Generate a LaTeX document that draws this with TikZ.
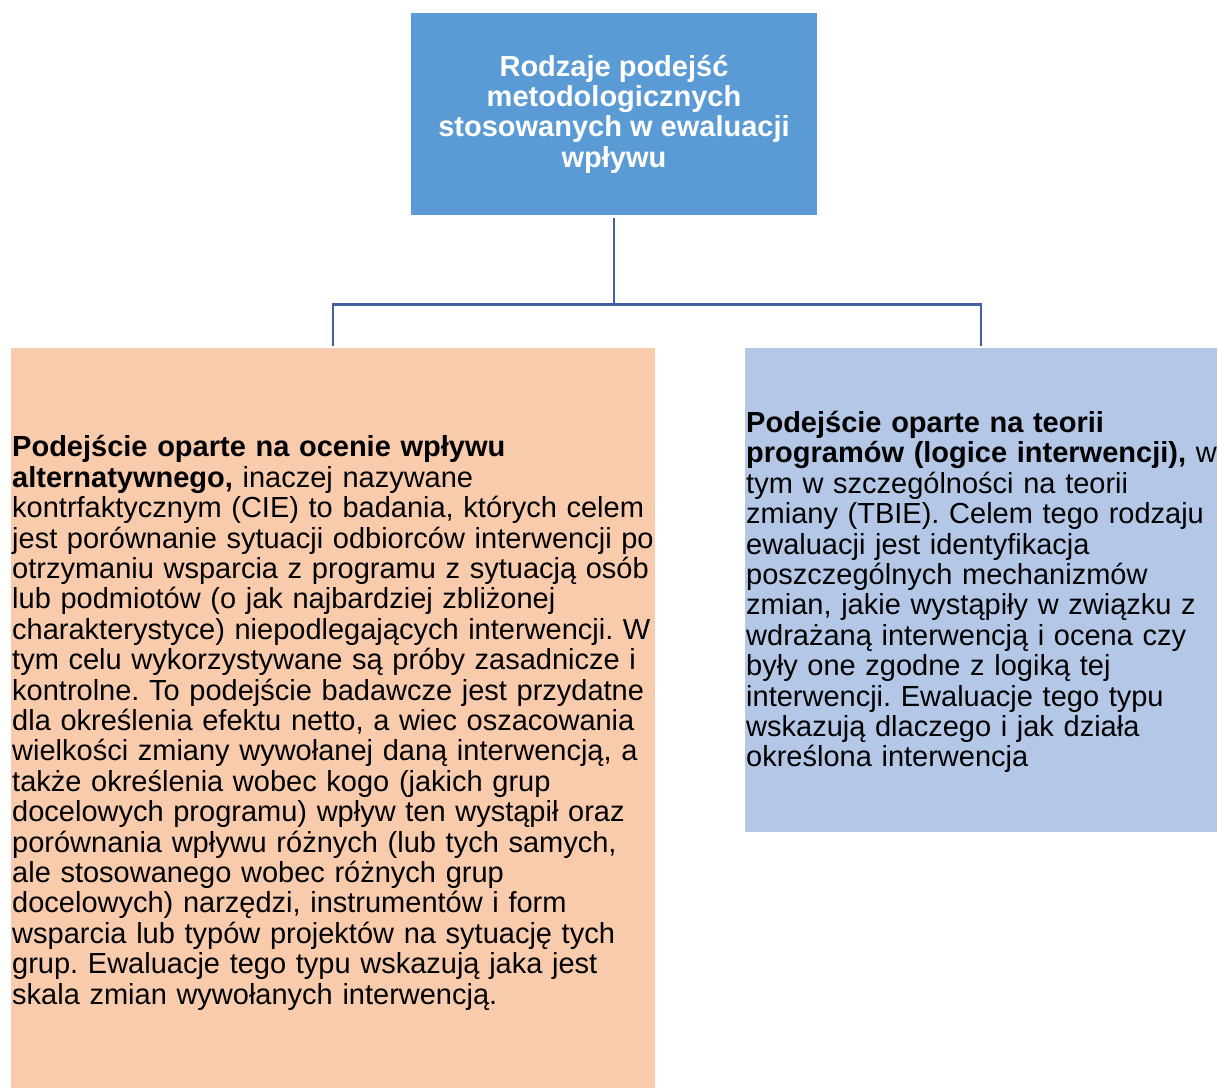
\documentclass[tikz,border=0pt]{standalone}
\usepackage{fontspec}
\setmainfont{Liberation Sans}
\usepackage{xcolor}
\usepackage{tikz}

\definecolor{topblue}{RGB}{91,155,213}
\definecolor{peach}{RGB}{248,203,173}
\definecolor{paleblue}{RGB}{180,199,231}
\definecolor{linkblue}{RGB}{65,97,160}

\tikzset{
  box/.style={rectangle, inner sep=0pt},
  bodytext/.style={inner sep=0pt, text width=700pt, align=left,
    font=\fontsize{29}{30.4}\selectfont\frenchspacing},
  link/.style={draw=linkblue, line width=2.8pt, shorten >=2pt}
}

\begin{document}
\begin{tikzpicture}[x=1pt,y=-1pt]
    \useasboundingbox (0,0) rectangle (1220,1088);
    % boxes
    \node[box, fill=topblue, minimum width=406pt, minimum height=202pt,
      text=white, align=center, font=\fontsize{29}{30.4}\selectfont\bfseries]
      (kinds) at (614,114) {Rodzaje podejść\\metodologicznych\\stosowanych w ewaluacji\\wpływu};
    \node[box, fill=peach, minimum width=644pt, minimum height=740pt] (alt) at (333,718) {};
    \node[box, fill=paleblue, minimum width=472pt, minimum height=484pt] (theory) at (981,590) {};
    % connectors
    \draw[link, shorten <=3pt] (kinds.south) -- ++(0,89) coordinate (fork) -| (alt.north);
    \draw[link] (fork) -| (theory.north);
    % texts
    \node[bodytext, anchor=north west] (altText) at (12,435.5) {\textbf{Podejście oparte na ocenie wpływu}\\
      \textbf{alternatywnego,} inaczej nazywane\\
      kontrfaktycznym (CIE) to badania, których celem\\
      jest porównanie sytuacji odbiorców interwencji po\\
      otrzymaniu wsparcia z programu z sytuacją osób\\
      lub podmiotów (o jak najbardziej zbliżonej\\
      charakterystyce) niepodlegających interwencji. W\\
      tym celu wykorzystywane są próby zasadnicze i\\
      kontrolne. To podejście badawcze jest przydatne\\
      dla określenia efektu netto, a wiec oszacowania\\
      wielkości zmiany wywołanej daną interwencją, a\\
      także określenia wobec kogo (jakich grup\\
      docelowych programu) wpływ ten wystąpił oraz\\
      porównania wpływu różnych (lub tych samych,\\
      ale stosowanego wobec różnych grup\\
      docelowych) narzędzi, instrumentów i form\\
      wsparcia lub typów projektów na sytuację tych\\
      grup. Ewaluacje tego typu wskazują jaka jest\\
      skala zmian wywołanych interwencją.};
    \node[bodytext, anchor=north west] (theoryText) at (746,411) {\textbf{Podejście oparte na teorii}\\
      \textbf{programów (logice interwencji),} w\\
      tym w szczególności na teorii\\
      zmiany (TBIE). Celem tego rodzaju\\
      ewaluacji jest identyfikacja\\
      poszczególnych mechanizmów\\
      zmian, jakie wystąpiły w związku z\\
      wdrażaną interwencją i ocena czy\\
      były one zgodne z logiką tej\\
      interwencji. Ewaluacje tego typu\\
      wskazują dlaczego i jak działa\\
      określona interwencja};
\end{tikzpicture}
\end{document}
